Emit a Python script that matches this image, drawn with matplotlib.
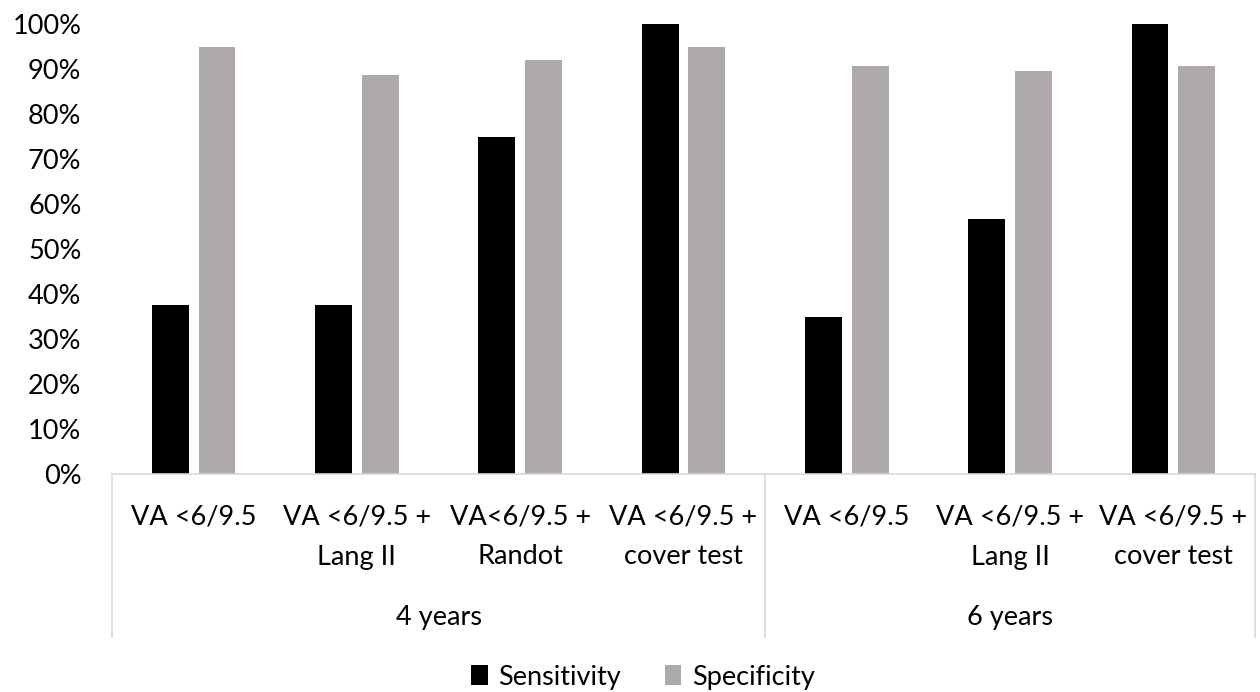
import numpy as np
import matplotlib.pyplot as plt
from matplotlib.patches import Patch
from matplotlib.ticker import PercentFormatter
import matplotlib.transforms as mtransforms

plt.rcParams['font.family'] = ['Lato', 'DejaVu Sans']

# screening combinations, grouped by age at testing
groups = ['4 years', '6 years']
tests = [
    ['VA <6/9.5', 'VA <6/9.5 +\nLang II', 'VA<6/9.5 +\nRandot', 'VA <6/9.5 +\ncover test'],
    ['VA <6/9.5', 'VA <6/9.5 +\nLang II', 'VA <6/9.5 +\ncover test'],
]
sensitivity = [37.5, 37.5, 75.0, 100.0, 34.8, 56.6, 100.0]
specificity = [95.0, 88.7, 92.1, 95.0, 90.6, 89.5, 90.6]

series_names = ['Sensitivity', 'Specificity']
colors = ['#000000', '#AEAAAA']
line_col = '#D9D9D9'
fs = 19.5

fig = plt.figure(figsize=(12.6, 6.92), dpi=100)
ax = fig.add_axes([112 / 1260, 1 - 474 / 692, (1255 - 112) / 1260, 450 / 692])

x = np.arange(len(sensitivity))
w = 0.225
off = w / 2 + 0.0306
ax.bar(x - off, sensitivity, w, color=colors[0], zorder=2)
ax.bar(x + off, specificity, w, color=colors[1], zorder=2)

ax.set_xlim(-0.5, len(x) - 0.5)
ax.set_ylim(0, 100)
ax.set_yticks(np.arange(0, 101, 10))
ax.yaxis.set_major_formatter(PercentFormatter(decimals=0))
ax.tick_params(axis='y', length=0, pad=22, labelsize=fs)
ax.set_xticks([])
for side in ['top', 'right', 'left']:
    ax.spines[side].set_visible(False)
ax.spines['bottom'].set_color(line_col)
ax.spines['bottom'].set_linewidth(1.2)

# two-level category axis
trans = mtransforms.blended_transform_factory(ax.transData, ax.transAxes)
px = 1 / 450
pos = 0
bounds = [-0.5]
for g, labels in zip(groups, tests):
    start = pos
    for lab in labels:
        for k, line in enumerate(lab.split('\n')):
            ax.text(pos, -(43 + 40 * k) * px, line, transform=trans,
                    ha='center', va='center', fontsize=fs, clip_on=False)
        pos += 1
    ax.text((start + pos - 1) / 2, -144 * px, g, transform=trans,
            ha='center', va='center', fontsize=fs, clip_on=False)
    bounds.append(pos - 0.5)

for b in bounds:
    ax.plot([b, b], [0, -163 * px], transform=trans, color=line_col,
            lw=1.2, clip_on=False)

handles = [Patch(facecolor=c, edgecolor='none') for c in colors]
fig.legend(handles, series_names, loc='center', bbox_to_anchor=(643 / 1260, 15 / 692),
           ncol=2, frameon=False, fontsize=fs, handlelength=0.62, handleheight=0.75,
           handletextpad=0.4, columnspacing=1.6)

fig.savefig('out.png', dpi=100)
